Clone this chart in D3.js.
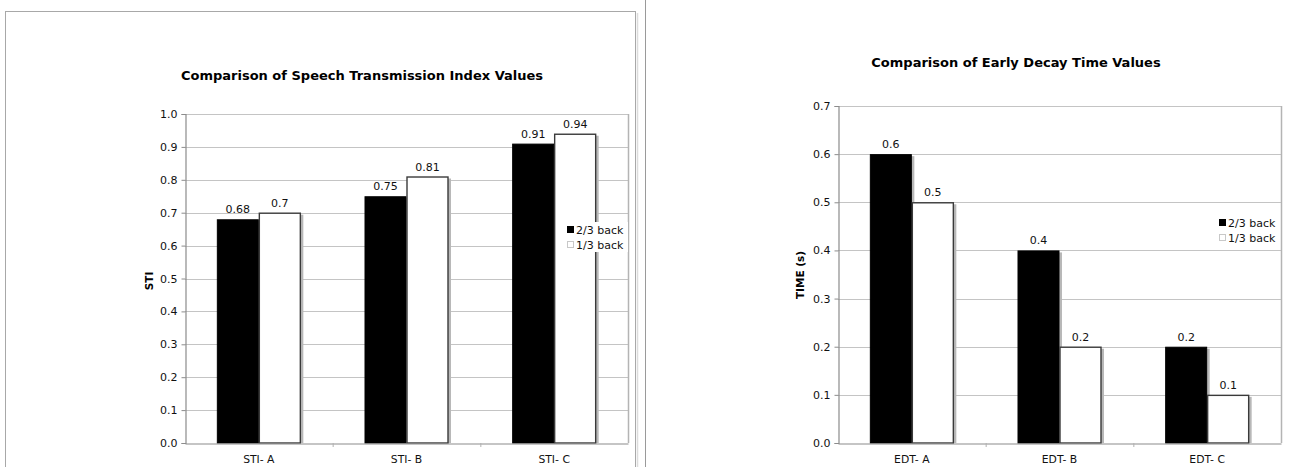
<!DOCTYPE html>
<html>
<head>
<meta charset="utf-8">
<script src="https://cdn.jsdelivr.net/npm/d3@7"></script>
<style>
  html, body { margin: 0; padding: 0; background: #fff; }
  svg { display: block; font-family: "DejaVu Sans", Verdana, sans-serif; }
</style>
</head>
<body>
<svg id="chart" width="1291" height="467"></svg>
<script>
// Speech Transmission Index values
const stiCategories = ["STI- A", "STI- B", "STI- C"];
const stiBack23 = [0.68, 0.75, 0.91];
const stiBack13 = [0.70, 0.81, 0.94];
const stiTicks = [0.0, 0.1, 0.2, 0.3, 0.4, 0.5, 0.6, 0.7, 0.8, 0.9, 1.0];

// Early Decay Time values (seconds)
const edtCategories = ["EDT- A", "EDT- B", "EDT- C"];
const edtBack23 = [0.6, 0.4, 0.2];
const edtBack13 = [0.5, 0.2, 0.1];
const edtTicks = [0.0, 0.1, 0.2, 0.3, 0.4, 0.5, 0.6, 0.7];

const seriesNames = ["2/3 back", "1/3 back"];
const seriesFill = ["#000000", "#ffffff"];

const svg = d3.select("#chart");

// panel frame around the left chart and the divider line
svg.append("rect").attr("x", 5.5).attr("y", 11.5).attr("width", 630).attr("height", 470)
  .attr("fill", "none").attr("stroke", "#a8a8a8").attr("stroke-width", 1);
svg.append("line").attr("x1", 637.5).attr("x2", 637.5).attr("y1", 13).attr("y2", 467)
  .attr("stroke", "#dcdcdc").attr("stroke-width", 1.5);
svg.append("line").attr("x1", 645.5).attr("x2", 645.5).attr("y1", 0).attr("y2", 467)
  .attr("stroke", "#9a9a9a").attr("stroke-width", 1);

function drawChart(opt) {
  const g = svg.append("g");
  const x = d3.scaleBand().domain(opt.categories).range([opt.left, opt.right]);
  const y = d3.scaleLinear().domain([0, opt.max]).range([opt.bottom, opt.top]);
  const barW = 42;
  const xs = d3.scaleBand().domain([0, 1]).range([0, barW * 2]);

  // gridlines
  g.append("g").selectAll("line").data(opt.ticks.filter(t => t > 0)).join("line")
    .attr("x1", opt.left).attr("x2", opt.right)
    .attr("y1", d => Math.round(y(d)) + 0.5).attr("y2", d => Math.round(y(d)) + 0.5)
    .attr("stroke", "#c4c4c4").attr("stroke-width", 1.2);
  // plot frame right edge
  g.append("line").attr("x1", opt.right + 0.5).attr("x2", opt.right + 0.5)
    .attr("y1", y(opt.max)).attr("y2", opt.bottom)
    .attr("stroke", "#b4b4b4").attr("stroke-width", 1.5);

  // bars
  const series = [opt.back23, opt.back13];
  series.forEach((vals, si) => {
    const bx = (d, i) => x(opt.categories[i]) + (x.bandwidth() - barW * 2) / 2 + xs(si);
    // soft drop shadow
    g.append("g").selectAll("rect").data(vals).join("rect")
      .attr("x", (d, i) => bx(d, i) + 2.5)
      .attr("y", d => y(d) + 2)
      .attr("width", barW)
      .attr("height", d => opt.bottom - y(d) - 2)
      .attr("fill", "#b8b8b8");
    g.append("g").selectAll("rect").data(vals).join("rect")
      .attr("x", (d, i) => bx(d, i) + 0.5)
      .attr("y", d => y(d) + 0.5)
      .attr("width", barW - 1)
      .attr("height", d => opt.bottom - y(d) - 0.5)
      .attr("fill", seriesFill[si])
      .attr("stroke", si === 0 ? "#000" : "#3a3a3a")
      .attr("stroke-width", si === 0 ? 1 : 1.4);
    // value labels
    g.append("g").selectAll("text").data(vals).join("text")
      .attr("x", (d, i) => bx(d, i) + barW / 2)
      .attr("y", d => y(d) - 6)
      .attr("text-anchor", "middle")
      .attr("font-size", "11px").attr("fill", "#111")
      .text(d => String(d));
  });

  // y axis
  const yAxis = d3.axisLeft(y).tickValues(opt.ticks).tickFormat(d3.format(".1f")).tickSize(4).tickPadding(4);
  const ya = g.append("g").attr("transform", `translate(${opt.left + 0.5},0)`).call(yAxis);
  ya.select(".domain").attr("stroke", "#8c8c8c").attr("stroke-width", 1.2);
  ya.selectAll(".tick line").attr("stroke", "#8c8c8c");
  ya.selectAll("text").attr("font-size", "11px").attr("fill", "#111")
    .attr("font-family", "DejaVu Sans, Verdana, sans-serif");

  // x axis
  const xAxis = d3.axisBottom(x).tickSize(0).tickPadding(12);
  const xa = g.append("g").attr("transform", `translate(0,${opt.bottom + 0.5})`).call(xAxis);
  xa.select(".domain").attr("stroke", "#8c8c8c").attr("stroke-width", 1.2);
  xa.selectAll("text").attr("font-size", "10.8px").attr("fill", "#111")
    .attr("font-family", "DejaVu Sans, Verdana, sans-serif");
  // category separators
  g.append("g").selectAll("line").data(opt.categories.slice(1)).join("line")
    .attr("x1", d => x(d) + 0.5).attr("x2", d => x(d) + 0.5)
    .attr("y1", opt.bottom).attr("y2", opt.bottom + 4)
    .attr("stroke", "#b0b0b0");

  // title
  g.append("text").attr("x", opt.titleX).attr("y", opt.titleY)
    .attr("text-anchor", "middle").attr("font-size", "13px").attr("font-weight", "bold")
    .attr("fill", "#000").text(opt.title);

  // y axis title
  g.append("text")
    .attr("transform", `translate(${opt.yTitleX},${opt.yTitleY}) rotate(-90)`)
    .attr("text-anchor", "middle").attr("font-size", "10.5px").attr("font-weight", "bold")
    .attr("fill", "#000").text(opt.yTitle);

  // legend
  const lg = g.append("g").attr("transform", `translate(${opt.legendX},${opt.legendY})`);
  lg.append("rect").attr("x", 0).attr("y", 0).attr("width", opt.legendW).attr("height", 30)
    .attr("fill", "#fff");
  seriesNames.forEach((name, i) => {
    lg.append("rect").attr("x", 4.5).attr("y", 4.5 + i * 15).attr("width", 6).attr("height", 6)
      .attr("fill", seriesFill[i]).attr("stroke", i === 0 ? "#000" : "#c8c8c8");
    lg.append("text").attr("x", 13).attr("y", 11.5 + i * 15)
      .attr("font-size", "11px").attr("fill", "#111").text(name);
  });
}

drawChart({
  categories: stiCategories, back23: stiBack23, back13: stiBack13, ticks: stiTicks,
  max: 1.0, left: 185, right: 628, top: 114, bottom: 443,
  title: "Comparison of Speech Transmission Index Values", titleX: 362, titleY: 80,
  yTitle: "STI", yTitleX: 153, yTitleY: 281,
  legendX: 563, legendY: 222, legendW: 65
});

drawChart({
  categories: edtCategories, back23: edtBack23, back13: edtBack13, ticks: edtTicks,
  max: 0.7, left: 838, right: 1281, top: 106, bottom: 443,
  title: "Comparison of Early Decay Time Values", titleX: 1016, titleY: 67,
  yTitle: "TIME (s)", yTitleX: 804, yTitleY: 275,
  legendX: 1215, legendY: 215, legendW: 65
});
</script>
</body>
</html>
